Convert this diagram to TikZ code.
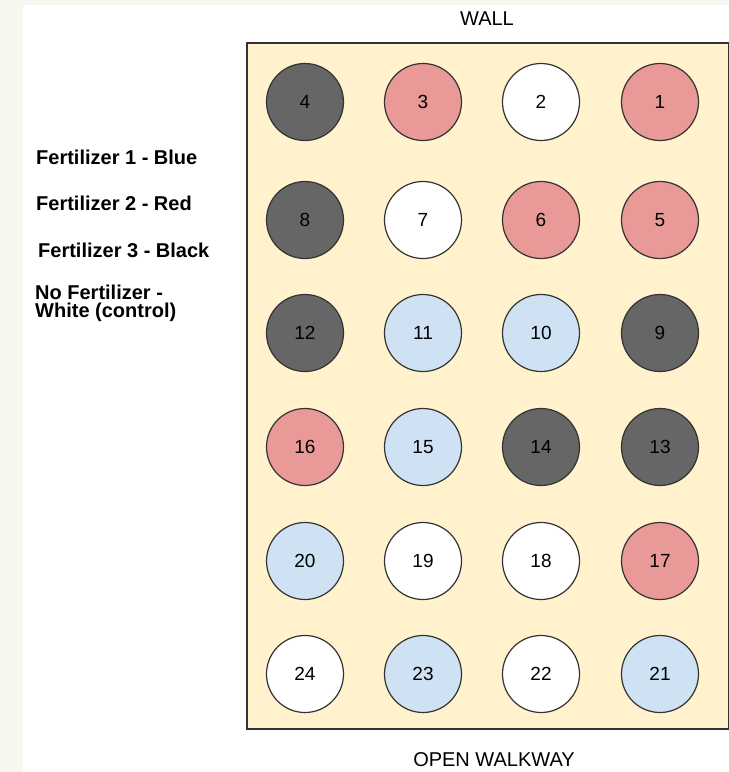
\documentclass[tikz,border=0pt]{standalone}
\usepackage{fontspec}
\setmainfont{Liberation Sans}
\definecolor{bgside}{HTML}{F6F7EE}
\definecolor{plot}{HTML}{FFF2CC}
\definecolor{potblack}{HTML}{666666}
\definecolor{potred}{HTML}{EA9999}
\definecolor{potblue}{HTML}{CFE2F3}
\definecolor{potwhite}{HTML}{FFFFFF}
\definecolor{edge}{HTML}{333333}
\tikzset{
  pot/.style={circle, draw=edge, line width=1.2pt, minimum size=77pt, inner sep=0pt, font=\fontsize{19}{22}\selectfont},
  legend/.style={anchor=west, font=\bfseries\fontsize{20}{22}\selectfont, inner sep=0pt, align=left},
  caption/.style={font=\fontsize{20}{22}\selectfont, inner sep=0pt}
}
\begin{document}
\begin{tikzpicture}[x=1pt,y=-1pt]
\useasboundingbox (0,0) rectangle (729,772);
\fill[bgside] (0,0) rectangle (729,772);
\fill[white] (23,5) rectangle (729,772);
\node[draw=edge, line width=1.5pt, fill=plot, minimum width=482pt, minimum height=686pt, inner sep=0pt, anchor=north west] (bed) at (246,42) {};
\node[caption] (wall) at (487,19) {WALL};
\node[caption] (walk) at (494,760) {OPEN WALKWAY};
\node[legend] (l1) at (36,157) {Fertilizer 1 - Blue};
\node[legend] (l2) at (36,203) {Fertilizer 2 - Red};
\node[legend] (l3) at (38,250) {Fertilizer 3 - Black};
\node[legend] (l4a) at (35,292) {No Fertilizer -};
\node[legend] (l4b) at (35,312) {White (control)};
% row 1
\node[pot, fill=potblack] (p4) at (305,102) {4};
\node[pot, fill=potred] (p3) at (423,102) {3};
\node[pot, fill=potwhite] (p2) at (541,102) {2};
\node[pot, fill=potred] (p1) at (660,102) {1};
% row 2
\node[pot, fill=potblack] (p8) at (305,220) {8};
\node[pot, fill=potwhite] (p7) at (423,220) {7};
\node[pot, fill=potred] (p6) at (541,220) {6};
\node[pot, fill=potred] (p5) at (660,220) {5};
% row 3
\node[pot, fill=potblack] (p12) at (305,333) {12};
\node[pot, fill=potblue] (p11) at (423,333) {11};
\node[pot, fill=potblue] (p10) at (541,333) {10};
\node[pot, fill=potblack] (p9) at (660,333) {9};
% row 4
\node[pot, fill=potred] (p16) at (305,447) {16};
\node[pot, fill=potblue] (p15) at (423,447) {15};
\node[pot, fill=potblack] (p14) at (541,447) {14};
\node[pot, fill=potblack] (p13) at (660,447) {13};
% row 5
\node[pot, fill=potblue] (p20) at (305,561) {20};
\node[pot, fill=potwhite] (p19) at (423,561) {19};
\node[pot, fill=potwhite] (p18) at (541,561) {18};
\node[pot, fill=potred] (p17) at (660,561) {17};
% row 6
\node[pot, fill=potwhite] (p24) at (305,674) {24};
\node[pot, fill=potblue] (p23) at (423,674) {23};
\node[pot, fill=potwhite] (p22) at (541,674) {22};
\node[pot, fill=potblue] (p21) at (660,674) {21};
\end{tikzpicture}
\end{document}
